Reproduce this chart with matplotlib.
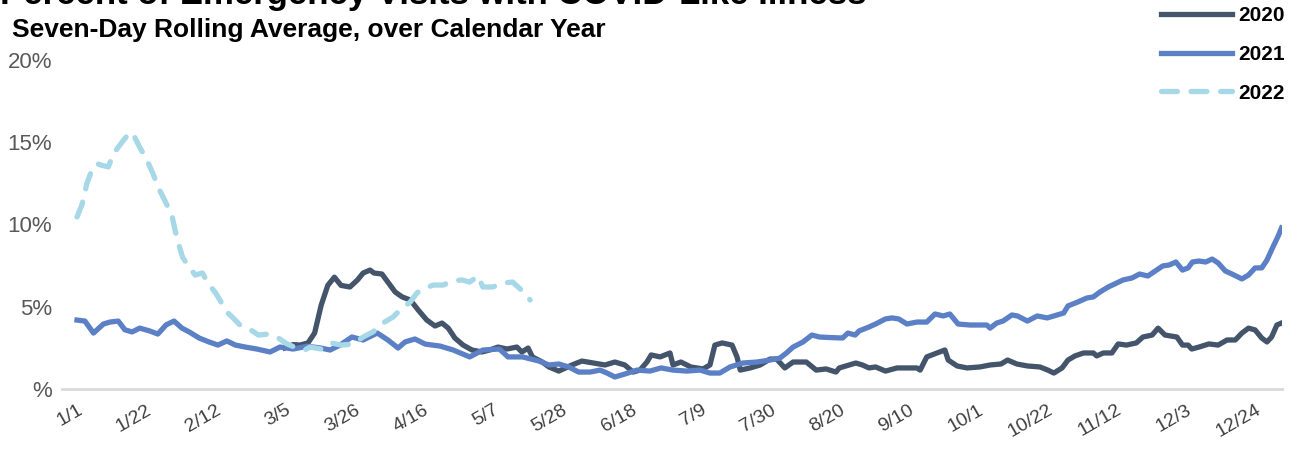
import matplotlib
matplotlib.use("Agg")
import matplotlib.pyplot as plt

# values: day of year (0 = 1/1) and percent of ED visits
days_2020 = [63, 65.5, 67.6, 70, 72, 74, 76, 78, 80, 82.7, 85, 86.7, 88.8, 90, 92.4, 94.2, 96.4, 98.5,
             101, 103.4, 106, 108.5, 110.6, 112.5, 114.5, 117, 119.7, 122.7, 125, 127.6, 130.3, 133.3,
             134.8, 136.7, 138, 141, 143, 146, 150, 153, 156.5, 160, 163, 166, 168.5, 170.6, 172.7,
             174, 176.7, 179.7, 180.6, 183, 186, 189.7, 191.8, 193.3, 195.5, 198.5, 200, 201, 204,
             207, 210, 212, 214.5, 217, 221, 224, 227, 230, 231, 234, 236, 238, 240, 242, 245, 248.5,
             254.5, 255.5, 257.5, 260.6, 263, 264, 266.7, 269.7, 273.6, 276.7, 280, 282, 284.8, 288,
             291.8, 294.2, 296, 298.5, 300.3, 302.4, 305, 308, 309, 311, 313.6, 315.5, 318, 321, 323,
             325.8, 327.6, 329.7, 333.3, 335, 336.7, 337.8, 340, 343, 345.8, 348.5, 351, 353, 355,
             357, 359, 360.6, 362, 363.6, 365]
vals_2020 = [2.5, 2.7, 2.67, 2.8, 3.4, 5.1, 6.3, 6.8, 6.3, 6.2, 6.63, 7.05, 7.23, 7.05, 6.99, 6.5, 5.9, 5.6,
             5.41, 4.8, 4.19, 3.83, 4.01, 3.7, 3.1, 2.67, 2.37, 2.25, 2.37, 2.55, 2.43, 2.55,
             2.25, 2.49, 1.95, 1.64, 1.34, 1.09, 1.46, 1.7, 1.58, 1.46, 1.64, 1.46, 1.03, 1.15, 1.64,
             2.07, 1.95, 2.19, 1.46, 1.64, 1.34, 1.22, 1.46, 2.67, 2.8, 2.67, 1.95, 1.15, 1.28,
             1.46, 1.82, 1.82, 1.28, 1.64, 1.64, 1.15, 1.22, 1.03, 1.28, 1.46, 1.58, 1.46, 1.28, 1.34, 1.09, 1.28,
             1.28, 1.15, 1.95, 2.19, 2.37, 1.76, 1.4, 1.28, 1.34, 1.46, 1.52, 1.76, 1.52, 1.4,
             1.34, 1.15, 0.97, 1.28, 1.76, 2.01, 2.19, 2.19, 2.01, 2.19, 2.19, 2.74, 2.67, 2.8, 3.16,
             3.28, 3.7, 3.28, 3.16, 2.67, 2.67, 2.43, 2.55, 2.74, 2.67, 2.98, 2.98, 3.4, 3.7,
             3.59, 3.1, 2.86, 3.16, 3.89, 4.01]

days_2021 = [0, 2.4, 5, 8, 10, 12.5, 14.5, 16.7, 19, 22, 24.5, 27, 29.4, 31.8, 34, 37, 40, 42.7, 45.4, 48,
             51, 54.5, 58.5, 61.5, 65.5, 69.7, 73.6, 76.7, 79.7, 83.3, 86.7, 91, 94.2, 97.3, 99.4, 102.4,
             105.5, 110, 114, 119, 123, 128, 130.6, 135, 140, 143, 146, 149, 152, 155.5, 158.5, 160.6,
             163, 166, 169.7, 173.6, 177, 180.6, 184.8, 188.8, 191.8, 194.8, 197.9, 201.8, 206, 210,
             213, 215, 217, 220, 222.7, 225, 228, 232, 233.6, 235.8, 237, 240, 242, 245, 247, 249,
             251.5, 254.5, 257.5, 260, 262.5, 264.5, 267, 270.6, 275.7, 276.7, 278.7, 280.6, 283.3,
             285, 288, 291, 294, 297, 299, 300.3, 303.3, 306, 308, 310, 312.5, 315, 317, 319.7, 322,
             324.5, 326.7, 329, 331, 333, 335, 336.7, 338, 340, 342, 344, 345.8, 348, 350, 353, 355,
             357, 359, 360.6, 362.4, 364, 365]
vals_2021 = [4.19, 4.13, 3.4, 3.95, 4.07, 4.13, 3.6, 3.47, 3.7, 3.53, 3.34, 3.9, 4.13, 3.7, 3.47, 3.1, 2.86, 2.67, 2.92, 2.67,
             2.55, 2.43, 2.25, 2.55, 2.43, 2.6, 2.5, 2.37, 2.67, 3.16, 2.98, 3.4, 2.98, 2.49, 2.86, 3.04,
             2.73, 2.61, 2.37, 1.95, 2.37, 2.43, 1.95, 1.95, 1.7, 1.46, 1.52, 1.34, 1.03, 1.03, 1.15, 0.97,
             0.73, 0.91, 1.15, 1.09, 1.28, 1.15, 1.09, 1.15, 0.97, 0.97, 1.34, 1.58, 1.64, 1.76,
             1.88, 2.19, 2.55, 2.86, 3.28, 3.16, 3.13, 3.1, 3.4, 3.28, 3.53, 3.77, 3.95, 4.26, 4.32, 4.26,
             3.95, 4.07, 4.07, 4.56, 4.44, 4.56, 3.95, 3.89, 3.89, 3.7, 4.01, 4.13, 4.5,
             4.44, 4.13, 4.44, 4.32, 4.5, 4.62, 5.05, 5.29, 5.53, 5.6, 5.9, 6.2, 6.44, 6.63, 6.75, 6.99,
             6.87, 7.17, 7.48, 7.54, 7.72, 7.23, 7.36, 7.72, 7.78, 7.72, 7.9, 7.66, 7.17, 6.99, 6.69, 6.93,
             7.36, 7.36, 7.84, 8.63, 9.3, 9.79]

days_2022 = [0, 1.5, 3, 4.5, 6, 7.5, 9.5, 11, 12.5, 14, 16, 17, 19, 21, 23, 25, 27, 28.7, 29.7, 30.7, 32,
             33.6, 35.8, 38, 39.7, 42, 43.3, 45.4, 47.3, 49.4, 51.8, 55, 58, 61, 63.6, 66.6, 69, 70.6,
             74, 77, 80, 83.6, 86.7, 89.7, 92.7, 95.8, 98.5, 101, 103, 105.5, 108, 111, 113.6, 116.7,
             119, 121.5, 123, 126, 129, 132, 134, 136.4, 137.3]
vals_2022 = [10.46, 11.2, 12.5, 13.3, 13.7, 13.6, 13.5, 14.3, 14.7, 15.1, 15.6, 15.5, 14.7, 14.0, 13.1, 12.1, 11.3, 10.6, 9.67, 8.88, 8.0,
             7.54, 6.93, 7.05, 6.44, 5.84, 5.41, 4.68, 4.32, 3.89, 3.7, 3.28, 3.34, 3.1, 2.74, 2.49, 2.37, 2.55,
             2.43, 2.8, 2.67, 2.73, 3.16, 3.47, 4.01, 4.38, 4.92, 5.29, 5.84, 6.14, 6.32, 6.32, 6.57, 6.63,
             6.5, 6.87, 6.2, 6.2, 6.44, 6.5, 6.14, 5.71, 5.41]

tick_days = [0, 21, 42, 63, 84, 105, 126, 147, 168, 189, 210, 231, 252, 273, 294, 315, 336, 357]
tick_labels = ['1/1', '1/22', '2/12', '3/5', '3/26', '4/16', '5/7', '5/28', '6/18', '7/9', '7/30',
               '8/20', '9/10', '10/1', '10/22', '11/12', '12/3', '12/24']
y_ticks = [0, 5, 10, 15, 20]
y_labels = ['%', '5%', '10%', '15%', '20%']

plt.rcParams['font.family'] = ['Liberation Sans', 'DejaVu Sans']

fig = plt.figure(figsize=(12.98, 4.5), dpi=100)
ax = fig.add_axes([62/1298, 1-389/450, (1282-62)/1298, (389-60)/450])

ax.plot(days_2020, vals_2020, color='#44546A', lw=3.8, solid_joinstyle='round', label='2020')
ax.plot(days_2021, vals_2021, color='#5B80C6', lw=3.8, solid_joinstyle='round', label='2021')
ax.plot(days_2022, vals_2022, color='#A6D8E7', lw=3.8, linestyle=(0, (3.0, 2.6)),
        dash_capstyle='round', label='2022')

ax.set_xlim(-15/3.3, (1282-77)/3.3)
ax.set_ylim(0, 20)
for s in ['top', 'right', 'left']:
    ax.spines[s].set_visible(False)
ax.spines['bottom'].set_color('#D9D9D9')
ax.spines['bottom'].set_linewidth(2)

ax.set_yticks(y_ticks)
ax.set_yticklabels(y_labels, fontsize=16, color='#595959')
ax.set_xticks(tick_days)
ax.set_xticklabels(tick_labels, fontsize=14, color='#404040', rotation=30,
                   ha='right', rotation_mode='anchor')
ax.tick_params(axis='both', length=0)
ax.tick_params(axis='y', pad=7)
ax.tick_params(axis='x', pad=9)

fig.text(0.0, 1-4/450, 'Percent of Emergency Visits with COVID-Like Illness', fontsize=25,
         fontweight='bold', color='black', va='baseline', ha='left')
fig.text(12/1298, 1-37/450, 'Seven-Day Rolling Average, over Calendar Year', fontsize=19,
         fontweight='bold', color='black', va='baseline', ha='left')

fig.legend(loc='upper left', bbox_to_anchor=(1161/1298, 1-6/450), frameon=False,
           prop={'size': 15, 'weight': 'bold'}, handlelength=3.4, handletextpad=0.3,
           labelspacing=0.95, borderpad=0, borderaxespad=0)

fig.savefig('out.png', dpi=100)
